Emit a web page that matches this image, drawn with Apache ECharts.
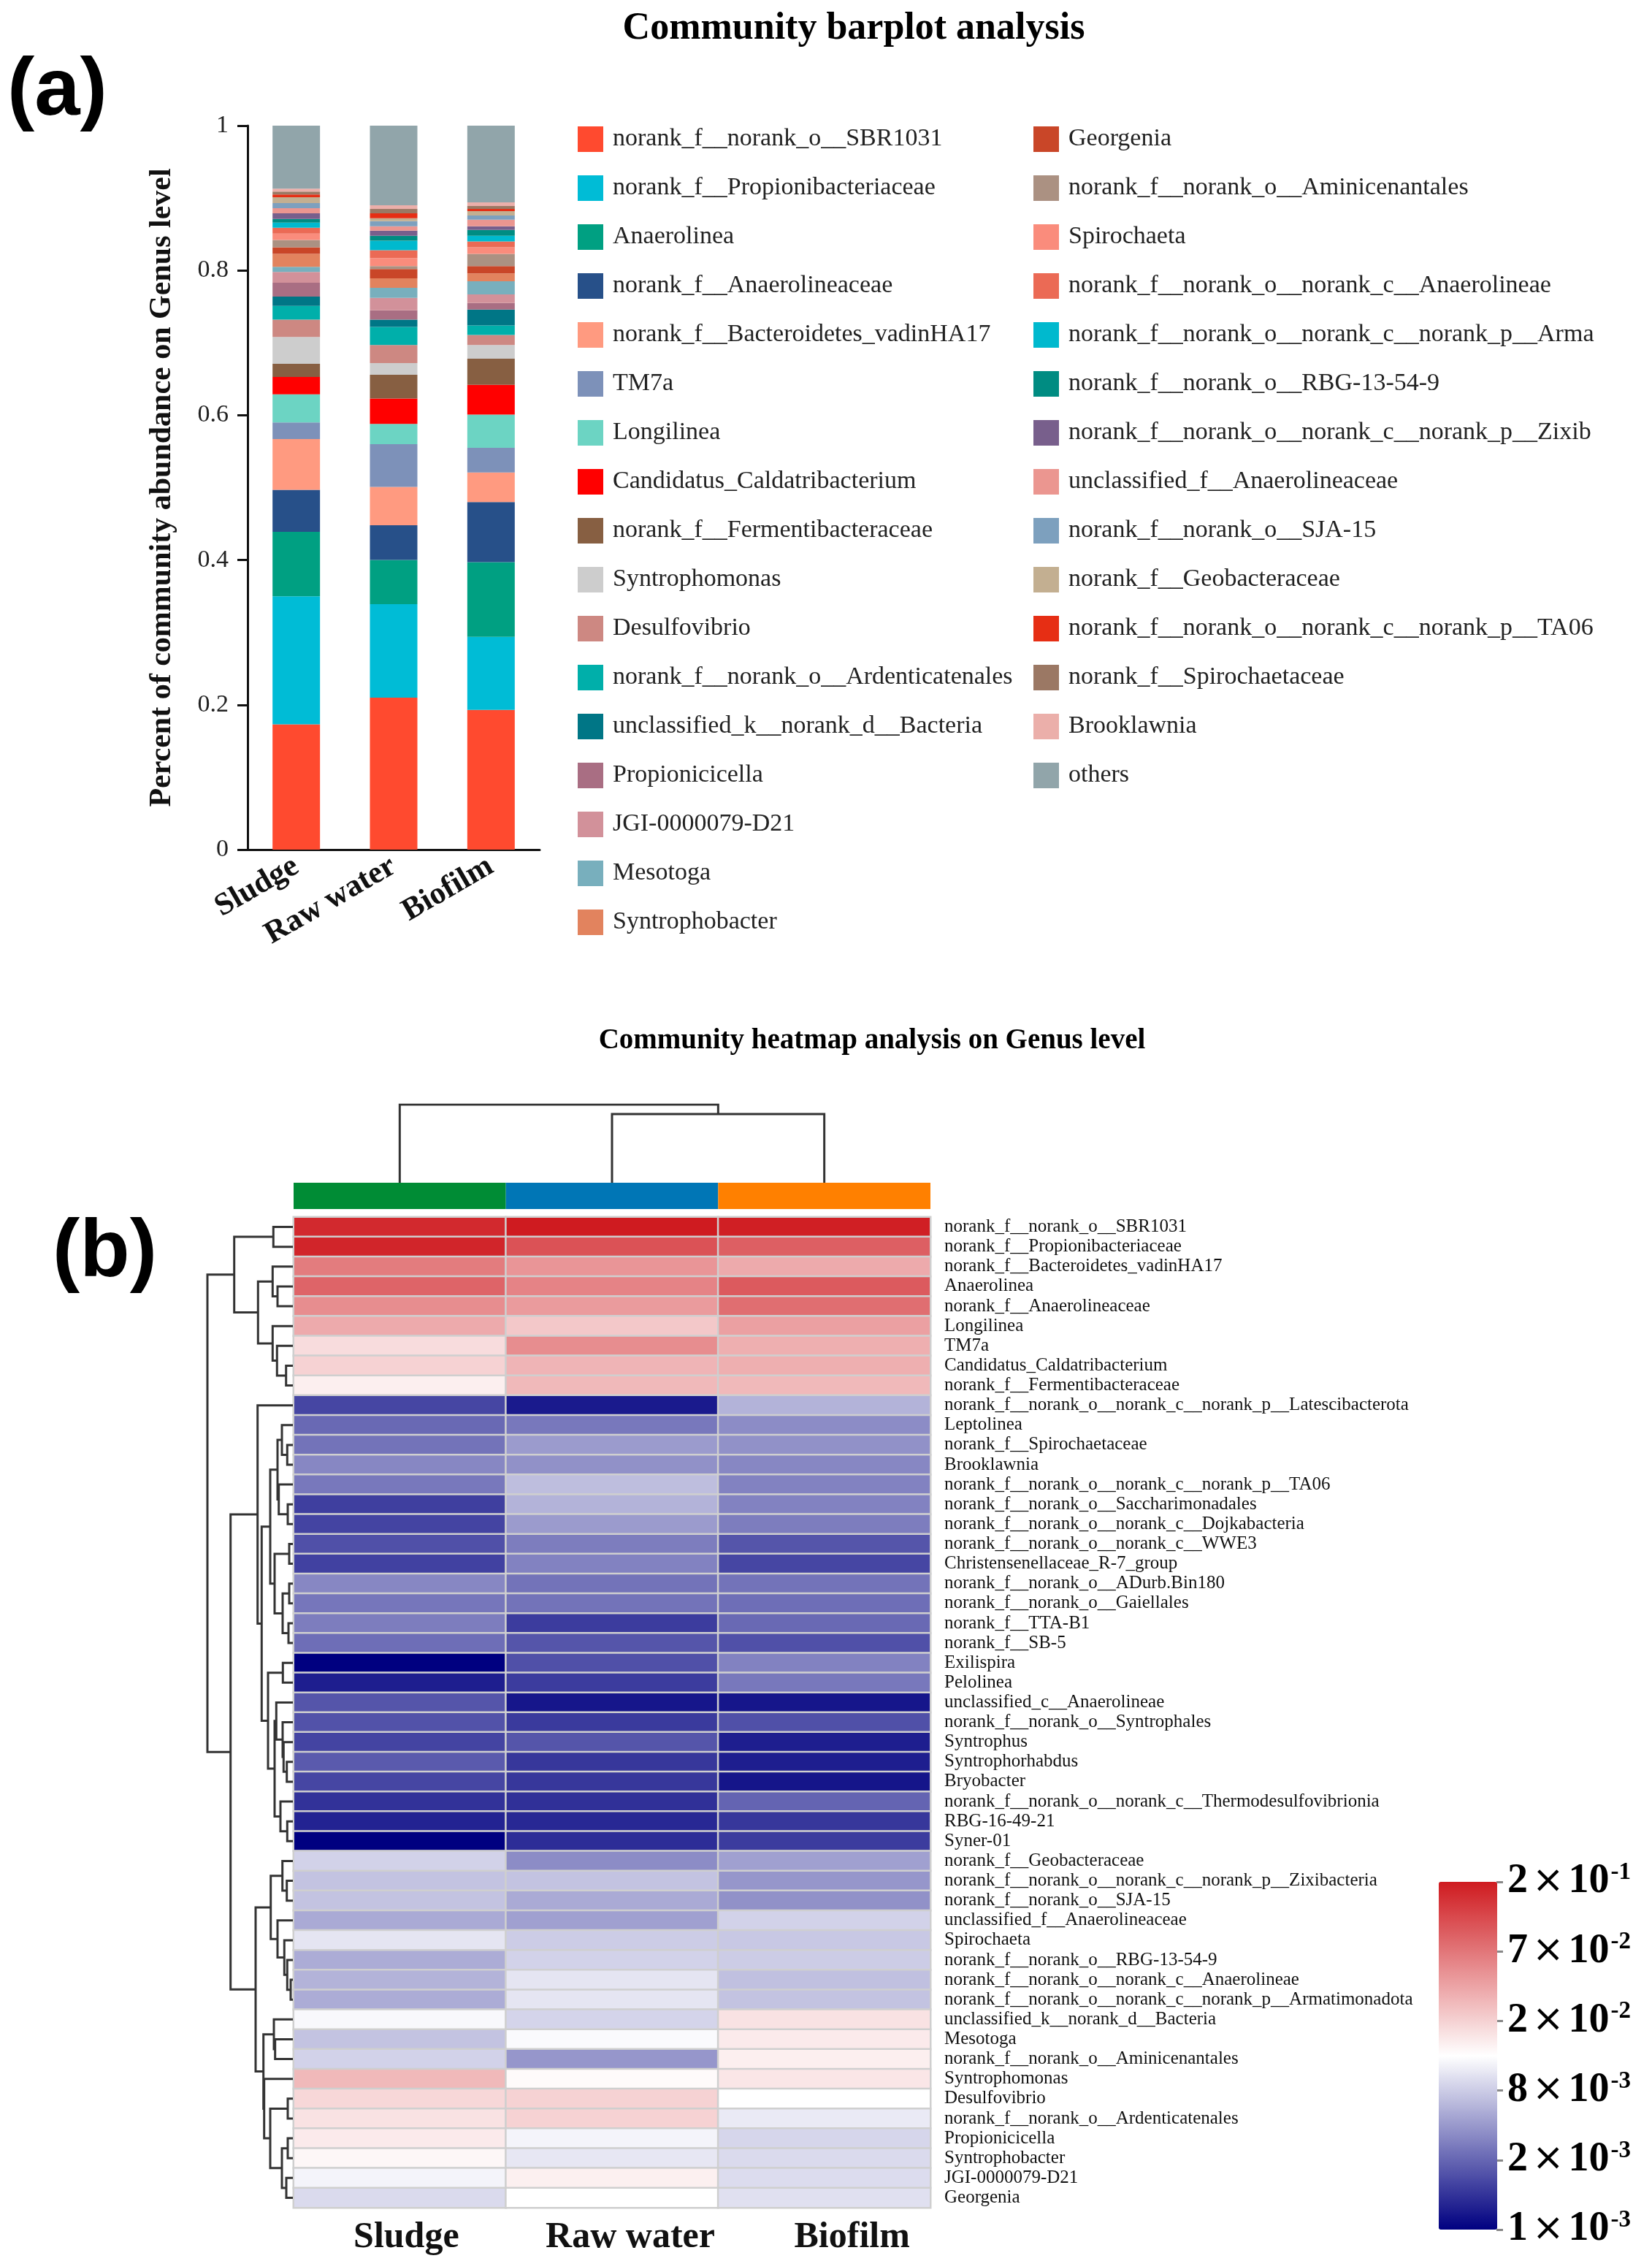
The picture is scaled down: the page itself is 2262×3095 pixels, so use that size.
<!DOCTYPE html>
<html><head><meta charset="utf-8">
<script src="https://cdn.jsdelivr.net/npm/echarts@6/dist/echarts.min.js"></script>
<style>html,body{margin:0;padding:0;background:#fff}#c{width:2262px;height:3095px}</style>
</head><body><div id="c"></div>
<script>
// ---------------- DATA ----------------
const samples = ['Sludge', 'Raw water', 'Biofilm'];

const legendCol1 = ['norank_f__norank_o__SBR1031','norank_f__Propionibacteriaceae','Anaerolinea','norank_f__Anaerolineaceae','norank_f__Bacteroidetes_vadinHA17','TM7a','Longilinea','Candidatus_Caldatribacterium','norank_f__Fermentibacteraceae','Syntrophomonas','Desulfovibrio','norank_f__norank_o__Ardenticatenales','unclassified_k__norank_d__Bacteria','Propionicicella','JGI-0000079-D21','Mesotoga','Syntrophobacter'];
const legendCol2 = ['Georgenia','norank_f__norank_o__Aminicenantales','Spirochaeta','norank_f__norank_o__norank_c__Anaerolineae','norank_f__norank_o__norank_c__norank_p__Armatimonadota','norank_f__norank_o__RBG-13-54-9','norank_f__norank_o__norank_c__norank_p__Zixibacteria','unclassified_f__Anaerolineaceae','norank_f__norank_o__SJA-15','norank_f__Geobacteraceae','norank_f__norank_o__norank_c__norank_p__TA06','norank_f__Spirochaetaceae','Brooklawnia','others'];
const barGenera = legendCol1.concat(legendCol2);

const barColors = ['#ff4a2f','#00bcd6','#00a082','#275089','#ff9a80','#7d91b9','#6cd4c3','#ff0000','#875f42','#cdcdcd','#cd8882','#00afaa','#007686','#a96e83','#d2919a','#78afbd','#e2835e',
                   '#c94628','#ab9182','#fa8c7c','#eb6a55','#00b9ce','#008c82','#785f8c','#eb9690','#7da0be','#c3af91','#e62e14','#9b7864','#ebafaa','#91a5aa'];

const sludgeBar  = [0.173,0.177,0.089,0.058,0.070,0.023,0.039,0.024,0.018,0.037,0.024,0.019,0.013,0.019,0.015,0.007,0.018,0.009,0.010,0.009,0.008,0.007,0.005,0.008,0.007,0.007,0.008,0.004,0.004,0.004,0.087];
const rawBar     = [0.210,0.129,0.061,0.048,0.053,0.059,0.028,0.035,0.033,0.016,0.025,0.025,0.010,0.013,0.017,0.014,0.013,0.013,0.004,0.011,0.011,0.013,0.007,0.007,0.006,0.007,0.004,0.007,0.006,0.005,0.110];
const biofilmBar = [0.193,0.101,0.103,0.083,0.041,0.034,0.046,0.041,0.036,0.019,0.014,0.013,0.022,0.009,0.012,0.018,0.011,0.010,0.017,0.009,0.008,0.008,0.008,0.005,0.009,0.006,0.006,0.003,0.004,0.005,0.106];
const barTicks = [0, 0.2, 0.4, 0.6, 0.8, 1];

const heatGenera = ['norank_f__norank_o__SBR1031','norank_f__Propionibacteriaceae','norank_f__Bacteroidetes_vadinHA17','Anaerolinea','norank_f__Anaerolineaceae','Longilinea','TM7a','Candidatus_Caldatribacterium','norank_f__Fermentibacteraceae','norank_f__norank_o__norank_c__norank_p__Latescibacterota','Leptolinea','norank_f__Spirochaetaceae','Brooklawnia','norank_f__norank_o__norank_c__norank_p__TA06','norank_f__norank_o__Saccharimonadales','norank_f__norank_o__norank_c__Dojkabacteria','norank_f__norank_o__norank_c__WWE3','Christensenellaceae_R-7_group','norank_f__norank_o__ADurb.Bin180','norank_f__norank_o__Gaiellales','norank_f__TTA-B1','norank_f__SB-5','Exilispira','Pelolinea','unclassified_c__Anaerolineae','norank_f__norank_o__Syntrophales','Syntrophus','Syntrophorhabdus','Bryobacter','norank_f__norank_o__norank_c__Thermodesulfovibrionia','RBG-16-49-21','Syner-01','norank_f__Geobacteraceae','norank_f__norank_o__norank_c__norank_p__Zixibacteria','norank_f__norank_o__SJA-15','unclassified_f__Anaerolineaceae','Spirochaeta','norank_f__norank_o__RBG-13-54-9','norank_f__norank_o__norank_c__Anaerolineae','norank_f__norank_o__norank_c__norank_p__Armatimonadota','unclassified_k__norank_d__Bacteria','Mesotoga','norank_f__norank_o__Aminicenantales','Syntrophomonas','Desulfovibrio','norank_f__norank_o__Ardenticatenales','Propionicicella','Syntrophobacter','JGI-0000079-D21','Georgenia'];

const heatSludge  = [0.17,0.178,0.065,0.086,0.0515,0.0344,0.0179,0.0198,0.0149,0.00161,0.00208,0.00239,0.00312,0.00257,0.00153,0.00159,0.00172,0.00156,0.00312,0.0025,0.00275,0.00223,0.001,0.00123,0.00178,0.00174,0.00159,0.00184,0.00161,0.0014,0.00127,0.001,0.00845,0.00706,0.00706,0.00506,0.00997,0.0052,0.00566,0.0052,0.0119,0.00706,0.00845,0.028,0.0189,0.0169,0.0156,0.0137,0.0115,0.0091];
const heatRaw     = [0.21,0.106,0.046,0.0587,0.0424,0.0227,0.0515,0.0298,0.028,0.00119,0.00257,0.00413,0.00358,0.00658,0.00566,0.00413,0.00275,0.00291,0.00239,0.00239,0.0015,0.00178,0.00172,0.0015,0.00116,0.00148,0.00178,0.00145,0.00145,0.00139,0.00131,0.00136,0.00334,0.00706,0.00506,0.00441,0.008,0.00845,0.00997,0.00997,0.0086,0.0121,0.00384,0.0133,0.0198,0.0198,0.0115,0.0102,0.0147,0.01265];
const heatBiofilm = [0.19,0.091,0.0345,0.0966,0.0771,0.0393,0.0322,0.0322,0.028,0.00566,0.00334,0.00358,0.00312,0.00291,0.00291,0.00275,0.00178,0.00161,0.00239,0.00223,0.00208,0.00172,0.00291,0.00257,0.00116,0.00172,0.00123,0.00123,0.00115,0.00197,0.00145,0.0015,0.00441,0.00384,0.00358,0.00845,0.00758,0.008,0.00679,0.00706,0.0169,0.0156,0.0149,0.0162,0.01265,0.0105,0.00877,0.0091,0.00926,0.0096];

const colorTicks    = [0.001, 0.002, 0.008, 0.02, 0.07, 0.2];
const colorTickMant = ['1', '2', '8', '2', '7', '2'];
const colorTickExp  = ['-3', '-3', '-3', '-2', '-2', '-1'];
const sampleColors  = ['#008c35', '#0076b6', '#ff8000'];

// dendrograms: [left, right, height]; leaves are indices
const colTree = [0, [1, 2, 94], 107];
const rowTree = [
  [[0, 1, 26.7], [[2, [3, 4, 21], 27.7], [5, [6, [7, 8, 9.3], 21.7], 27.7], 47.7], 80.3],
  [
    [9, [
      [[[10, [11, 12, 7.7], 15], [13, [14, 15, 7], 19.3], 21], [[16, 17, 5], [[18, 19, 5], [20, 21, 6], 14], 25], 31],
      [[22, 23, 13.7], [[24, [25, [26, [27, 28, 8.3], 12.7], 14], 22.7], [29, [30, 31, 7.7], 17], 25], 34],
      42.7], 48.3],
    [
      [[32, [33, 34, 8.3], 14.3], [35, [36, [37, [38, 39, 3], 7.7], 11.7], 21], 30.3],
      [[40, [41, 42, 24.3], 26], [43, [[44, 45, 7], [[46, 47, 7], [48, 49, 9], 15], 31], 39.3], 40.3],
      51],
    85.3],
  117];

// ---------------- HELPERS ----------------
function tPos(v) {
  if (v <= colorTicks[0]) return 0;
  for (let i = 0; i < colorTicks.length - 1; i++) {
    if (v <= colorTicks[i + 1]) return i + Math.log(v / colorTicks[i]) / Math.log(colorTicks[i + 1] / colorTicks[i]);
  }
  return colorTicks.length - 1;
}
function treeSegs(node, segs, swap) {
  if (typeof node === 'number') return { pos: node, h: 0 };
  const a = treeSegs(node[0], segs, swap), b = treeSegs(node[1], segs, swap), h = node[2];
  let pts = [[a.pos, a.h], [a.pos, h], [b.pos, h], [b.pos, b.h]];
  if (swap) pts = pts.map(p => [p[1], p[0]]);
  segs.push({ coords: pts });
  return { pos: (a.pos + b.pos) / 2, h: h };
}

const SERIF = 'Liberation Serif';
const colSegs = []; treeSegs(colTree, colSegs, false);
const rowSegs = []; treeSegs(rowTree, rowSegs, true);

const heatCols = [heatSludge, heatRaw, heatBiofilm];
const heatData = [];
heatGenera.forEach((g, r) => { heatCols.forEach((arr, c) => heatData.push([c, r, tPos(arr[r])])); });

const barSeries = barGenera.map((name, i) => ({
  name: name, type: 'bar', stack: 'total', xAxisIndex: 0, yAxisIndex: 0,
  barWidth: 65, itemStyle: { color: barColors[i] },
  data: [sludgeBar[i], rawBar[i], biofilmBar[i]]
}));

// heatmap bottom labels sit a little to the right of the column centres in the original
const heatLabelShift = [18, 50, 76];
const heatXData = samples.map((s, i) => ({ value: s, textStyle: { padding: [0, 0, 0, heatLabelShift[i]] } }));

const legendBase = {
  orient: 'vertical', itemWidth: 35, itemHeight: 35, itemGap: 32, icon: 'rect',
  textStyle: { fontFamily: SERIF, fontSize: 34, color: '#222', padding: [0, 0, 0, 8] },
  selectedMode: false
};

const chart = echarts.init(document.getElementById('c'), null, { renderer: 'canvas' });
const option = {
  animation: false,
  backgroundColor: '#ffffff',
  legend: [
    Object.assign({}, legendBase, { left: 786, top: 168, data: legendCol1 }),
    Object.assign({}, legendBase, { left: 1410, top: 168, data: legendCol2,
      textStyle: Object.assign({}, legendBase.textStyle, { width: 726, overflow: 'truncate', ellipsis: '' }) })
  ],
  grid: [
    { left: 339, top: 172, width: 400, height: 991 },      // 0 bar chart
    { left: 402, top: 1512, width: 872, height: 107 },     // 1 column dendrogram
    { left: 402, top: 1619, width: 872, height: 36 },      // 2 sample colour bars
    { left: 402, top: 1666, width: 872, height: 1356 },    // 3 heatmap
    { left: 284, top: 1666, width: 117, height: 1356 },    // 4 row dendrogram
    { left: 2049, top: 2576, width: 1, height: 476 }       // 5 colour bar labels
  ],
  xAxis: [
    { gridIndex: 0, type: 'category', data: samples,
      axisLine: { lineStyle: { color: '#111', width: 3 } },
      axisTick: { alignWithLabel: true, length: 15, lineStyle: { color: '#111', width: 3 } },
      axisLabel: { rotate: 30, margin: 20, interval: 0, fontFamily: SERIF, fontWeight: 'bold', fontSize: 43, color: '#111' } },
    { gridIndex: 1, type: 'value', min: -0.5, max: 2.5, show: false },
    { gridIndex: 2, type: 'category', data: samples, show: false },
    { gridIndex: 3, type: 'category', data: heatXData, position: 'bottom',
      axisLine: { show: false }, axisTick: { show: false }, splitLine: { show: false },
      axisLabel: { margin: 16, interval: 0, hideOverlap: false, fontFamily: SERIF, fontWeight: 'bold', fontSize: 50, color: '#111' } },
    { gridIndex: 4, type: 'value', min: 0, max: 117, inverse: true, show: false },
    { gridIndex: 5, type: 'value', min: 0, max: 1, show: false }
  ],
  yAxis: [
    { gridIndex: 0, type: 'value', min: 0, max: 1, interval: 0.2,
      name: 'Percent of community abundance on Genus level', nameLocation: 'middle', nameRotate: 90, nameGap: 96,
      nameTextStyle: { fontFamily: SERIF, fontWeight: 'bold', fontSize: 42, color: '#111' },
      axisLine: { show: true, lineStyle: { color: '#111', width: 3 } },
      axisTick: { show: true, length: 14, lineStyle: { color: '#111', width: 3 } },
      splitLine: { show: false },
      axisLabel: { margin: 26, fontFamily: SERIF, fontSize: 34, color: '#222',
        formatter: v => { const t = barTicks.find(x => Math.abs(x - v) < 1e-9); return t === 0 || t === 1 ? String(t) : t.toFixed(1); } } },
    { gridIndex: 1, type: 'value', min: 0, max: 107, show: false },
    { gridIndex: 2, type: 'value', min: 0, max: 1, show: false },
    { gridIndex: 3, type: 'category', data: heatGenera, inverse: true, position: 'right',
      axisLine: { show: false }, axisTick: { show: false }, splitLine: { show: false },
      axisLabel: { margin: 19, interval: 0, fontFamily: SERIF, fontSize: 25, color: '#111', width: 650, overflow: 'truncate', ellipsis: '' } },
    { gridIndex: 4, type: 'value', min: -0.5, max: heatGenera.length - 0.5, inverse: true, show: false },
    { gridIndex: 5, type: 'value', min: 0, max: colorTicks.length - 1, interval: 1, position: 'right',
      axisLine: { show: false }, splitLine: { show: false },
      axisTick: { show: true, length: 9, lineStyle: { color: '#888', width: 3 } },
      axisLabel: { margin: 14, formatter: v => { const i = Math.round(v); return '{m|' + colorTickMant[i] + '}{x|×}{m|10}{e|' + colorTickExp[i] + '}'; },
        rich: { m: { fontFamily: SERIF, fontWeight: 'bold', fontSize: 56, color: '#000', lineHeight: 58 },
                x: { fontFamily: 'DejaVu Sans', fontWeight: 'normal', fontSize: 52, color: '#000', lineHeight: 58, padding: [0, 6, 0, 6] },
                e: { fontFamily: SERIF, fontWeight: 'bold', fontSize: 33, color: '#000', verticalAlign: 'top', lineHeight: 58, padding: [0, 0, 14, 2] } } } }
  ],
  visualMap: [{
    type: 'continuous', min: 0, max: colorTicks.length - 1, dimension: 2, seriesIndex: barSeries.length + 2,
    inRange: { color: ['#000080', '#ffffff', '#cf1b20'] },
    left: 1970, top: 2576, itemWidth: 80, itemHeight: 476, padding: 0,
    calculable: false, realtime: false, hoverLink: false, text: null, orient: 'vertical'
  }],
  series: barSeries.concat([
    { type: 'lines', coordinateSystem: 'cartesian2d', xAxisIndex: 1, yAxisIndex: 1, polyline: true, silent: true,
      lineStyle: { color: '#333', width: 3, opacity: 1 }, data: colSegs },
    { type: 'bar', xAxisIndex: 2, yAxisIndex: 2, barWidth: '100%', silent: true,
      data: sampleColors.map(c => ({ value: 1, itemStyle: { color: c } })) },
    { type: 'heatmap', xAxisIndex: 3, yAxisIndex: 3, data: heatData, silent: true,
      itemStyle: { borderColor: '#cfcfcf', borderWidth: 2.5 }, emphasis: { disabled: true } },
    { type: 'lines', coordinateSystem: 'cartesian2d', xAxisIndex: 4, yAxisIndex: 4, polyline: true, silent: true,
      lineStyle: { color: '#333', width: 3, opacity: 1 }, data: rowSegs }
  ]),
  graphic: [
    { type: 'text', left: 10, top: 70, style: { text: '(a)', font: 'bold 112px "Liberation Sans"', fill: '#000' } },
    { type: 'text', left: 72, top: 1660, style: { text: '(b)', font: 'bold 112px "Liberation Sans"', fill: '#000' } },
    { type: 'text', x: 1169, y: 40, style: { text: 'Community barplot analysis', font: 'bold 52px "Liberation Serif"', fill: '#000', textAlign: 'center', textVerticalAlign: 'middle' } },
    { type: 'text', x: 1194, y: 1425, style: { text: 'Community heatmap analysis on Genus level', font: 'bold 39px "Liberation Serif"', fill: '#000', textAlign: 'center', textVerticalAlign: 'middle' } }
  ]
};
chart.setOption(option);
</script>
</body></html>
